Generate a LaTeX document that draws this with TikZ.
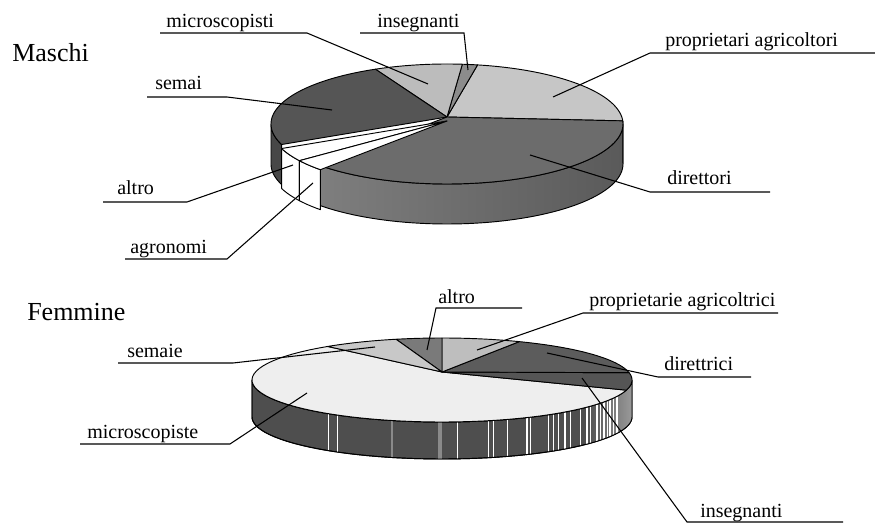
\documentclass[tikz,border=0pt]{standalone}
\usepackage{fontspec}
\setmainfont{Liberation Serif}
\definecolor{mProp}{HTML}{C6C6C6}
\definecolor{mIns}{HTML}{8C8C8C}
\definecolor{mMicro}{HTML}{BCBCBC}
\definecolor{mSemai}{HTML}{555555}
\definecolor{mDir}{HTML}{6C6C6C}
\definecolor{mSemaiS}{HTML}{474747}
\definecolor{mDirSa}{HTML}{7E7E7E}
\definecolor{mDirSb}{HTML}{5A5A5A}
\definecolor{mPropS}{HTML}{A8A8A8}
\definecolor{fMicro}{HTML}{EEEEEE}
\definecolor{fSemaie}{HTML}{C8C8C8}
\definecolor{fAltro}{HTML}{7A7A7A}
\definecolor{fProp}{HTML}{BEBEBE}
\definecolor{fDir}{HTML}{5C5C5C}
\definecolor{fIns}{HTML}{555555}
\definecolor{fSide}{HTML}{4E4E4E}
\definecolor{fSideR}{HTML}{A0A0A0}
\definecolor{fBand}{HTML}{8A8A8A}
\tikzset{
  face/.style={draw=black, line width=0.7pt, line join=round},
  leader/.style={draw=black, line width=0.8pt},
  lbl/.style={inner sep=0pt, anchor=base west, font=\fontsize{15}{18}\selectfont},
  ttl/.style={inner sep=0pt, anchor=base west, font=\fontsize{19.5}{23}\selectfont},
}
% start an elliptic arc (first element of a path)
\newcommand{\pieArc}[6]{plot[domain=#5:#6,samples=60] ({#1+#3*cos(\x)},{#2-#4*sin(\x)})}
% line to an elliptic arc
\newcommand{\pieTo}[6]{-- plot[domain=#5:#6,samples=60] ({#1+#3*cos(\x)},{#2-#4*sin(\x)})}
% line to an elliptic arc, run backwards
\newcommand{\pieToRev}[6]{-- plot[domain=#5:#6,samples=60] ({#1+#3*cos(#5+#6-\x)},{#2-#4*sin(#5+#6-\x)})}
\begin{document}
\begin{tikzpicture}[x=0.75pt,y=-0.75pt]
\useasboundingbox (0,0) rectangle (875,524);
\fill[white] (0,0) rectangle (875,524);

% ================= TOP PIE (Maschi) =================
\coordinate (A1) at (447,117);
% sides
\filldraw[face, fill=mSemaiS] \pieArc{447}{124}{176}{60}{180}{200} \pieToRev{447}{164}{176}{60}{180}{200} -- cycle;
\shadedraw[face, left color=mDirSa, right color=mDirSb] \pieArc{447}{124}{176}{60}{224}{360} \pieToRev{447}{164}{176}{60}{224}{360} -- cycle;
\filldraw[face, fill=mPropS] \pieArc{447}{124}{176}{60}{360}{363} \pieToRev{447}{164}{176}{60}{360}{363} -- cycle;
% top faces
\filldraw[face, fill=mProp] (A1) \pieTo{447}{124}{176}{60}{3}{80} -- cycle;
\filldraw[face, fill=mIns] (A1) \pieTo{447}{124}{176}{60}{80}{85} -- cycle;
\filldraw[face, fill=mMicro] (A1) \pieTo{447}{124}{176}{60}{85}{114} -- cycle;
\filldraw[face, fill=mSemai] (A1) \pieTo{447}{124}{176}{60}{114}{200} -- cycle;
\filldraw[face, fill=mDir] (A1) \pieTo{447}{124}{176}{60}{224}{363} -- cycle;
% exploded white slices
\begin{scope}[shift={(0,4)}]
  \filldraw[face, fill=white] \pieArc{447}{124}{176}{60}{200}{213} \pieToRev{447}{164}{176}{60}{200}{213} -- cycle;
  \filldraw[face, fill=white] \pieArc{447}{124}{176}{60}{213}{224} \pieToRev{447}{164}{176}{60}{213}{224} -- cycle;
  \filldraw[face, fill=white] (447,117) \pieTo{447}{124}{176}{60}{200}{213} -- cycle;
  \filldraw[face, fill=white] (447,117) \pieTo{447}{124}{176}{60}{213}{224} -- cycle;
\end{scope}

% ================= BOTTOM PIE (Femmine) =================
\coordinate (A2) at (442,372);
\filldraw[face, fill=fSide] \pieArc{442}{380}{190}{42}{180}{360} \pieToRev{442}{417}{190}{42}{180}{360} -- cycle;
\begin{scope}
  \clip \pieArc{442}{380}{190}{42}{180}{360} \pieToRev{442}{417}{190}{42}{180}{360} -- cycle;
  \shade[left color=fSide, right color=fSideR] (585,360) rectangle (636,470);
  \foreach \sx/\sw/\sc in {328/0.5/white, 337/0.4/white, 392/2.2/fBand, 440/2.4/fBand, 457/0.6/white,
      488/0.6/white, 493/0.5/white, 507/0.6/white, 527/0.9/white, 530/0.5/white, 548/0.7/white,
      553/0.5/white, 558/0.7/white, 565/0.9/white, 570/0.5/white, 580/0.7/white, 587/0.9/white,
      590/0.5/white, 597/0.9/white, 600/0.6/white, 604/0.9/white, 607/0.6/white, 610/0.9/white,
      613/0.6/white, 617/0.8/white}
    \draw[line width=\sw pt, color=\sc] (\sx,360) -- (\sx,470);
\end{scope}
\draw[face] \pieArc{442}{380}{190}{42}{180}{360} \pieToRev{442}{417}{190}{42}{180}{360} -- cycle;
% top faces
\filldraw[face, fill=fMicro] (A2) \pieTo{442}{380}{190}{42}{127}{346} -- cycle;
\filldraw[face, fill=fIns] (A2) \pieTo{442}{380}{190}{42}{346}{370} -- cycle;
\filldraw[face, fill=fDir] (A2) \pieTo{442}{380}{190}{42}{10}{66} -- cycle;
\filldraw[face, fill=fProp] (A2) \pieTo{442}{380}{190}{42}{66}{90} -- cycle;
\filldraw[face, fill=fAltro] (A2) \pieTo{442}{380}{190}{42}{90}{104} -- cycle;
\filldraw[face, fill=fSemaie] (A2) \pieTo{442}{380}{190}{42}{104}{127} -- cycle;

% ================= TITLES =================
\node[ttl] (tMaschi) at (12,62) {Maschi};
\node[ttl] (tFemmine) at (27,320) {Femmine};

% ================= LABELS TOP =================
\node[lbl] (lMicro) at (166,28) {microscopisti};
\coordinate (uMicroL) at (160,33); \coordinate (uMicroR) at (307,33); \coordinate (pMicro) at (428,84);
\draw[leader] (uMicroL) -- (uMicroR) -- (pMicro);

\node[lbl] (lIns) at (377,28) {insegnanti};
\coordinate (uInsL) at (360,33); \coordinate (uInsR) at (464,33); \coordinate (pIns) at (468,70);
\draw[leader] (uInsL) -- (uInsR) -- (pIns);

\node[lbl] (lSemai) at (155,90) {semai};
\coordinate (uSemaiL) at (147,97); \coordinate (uSemaiR) at (227,97); \coordinate (pSemai) at (332,110);
\draw[leader] (uSemaiL) -- (uSemaiR) -- (pSemai);

\node[lbl] (lProp) at (665,47) {proprietari agricoltori};
\coordinate (uPropL) at (650,53); \coordinate (uPropR) at (875,53); \coordinate (pProp) at (553,97);
\draw[leader] (uPropR) -- (uPropL) -- (pProp);

\node[lbl] (lDir) at (667,185) {direttori};
\coordinate (uDirL) at (650,192); \coordinate (uDirR) at (770,192); \coordinate (pDir) at (530,155);
\draw[leader] (uDirR) -- (uDirL) -- (pDir);

\node[lbl] (lAltro) at (117,195) {altro};
\coordinate (uAltroL) at (103,202); \coordinate (uAltroR) at (187,202); \coordinate (pAltro) at (293,165);
\draw[leader] (uAltroL) -- (uAltroR) -- (pAltro);

\node[lbl] (lAgr) at (130,253) {agronomi};
\coordinate (uAgrL) at (125,259); \coordinate (uAgrR) at (227,259); \coordinate (pAgr) at (313,183);
\draw[leader] (uAgrL) -- (uAgrR) -- (pAgr);

% ================= LABELS BOTTOM =================
\node[lbl] (lSemaie) at (127,357) {semaie};
\coordinate (uSemaieL) at (118,363); \coordinate (uSemaieR) at (233,363); \coordinate (pSemaie) at (375,347);
\draw[leader] (uSemaieL) -- (uSemaieR) -- (pSemaie);

\node[lbl] (lMicroF) at (87,438) {microscopiste};
\coordinate (uMicroFL) at (80,444); \coordinate (uMicroFR) at (230,444); \coordinate (pMicroF) at (307,393);
\draw[leader] (uMicroFL) -- (uMicroFR) -- (pMicroF);

\node[lbl] (lAltroF) at (438,303) {altro};
\coordinate (uAltroFL) at (436,308); \coordinate (uAltroFR) at (522,308); \coordinate (pAltroF) at (427,350);
\draw[leader] (uAltroFR) -- (uAltroFL) -- (pAltroF);

\node[lbl] (lPropF) at (589,306) {proprietarie agricoltrici};
\coordinate (uPropFL) at (583,313); \coordinate (uPropFR) at (778,313); \coordinate (pPropF) at (477,350);
\draw[leader] (uPropFR) -- (uPropFL) -- (pPropF);

\node[lbl] (lDirF) at (664,370) {direttrici};
\coordinate (uDirFL) at (658,377); \coordinate (uDirFR) at (751,377); \coordinate (pDirF) at (547,353);
\draw[leader] (uDirFR) -- (uDirFL) -- (pDirF);

\node[lbl] (lInsF) at (700,517) {insegnanti};
\coordinate (uInsFL) at (687,522); \coordinate (uInsFR) at (843,522); \coordinate (pInsF) at (582,378);
\draw[leader] (uInsFR) -- (uInsFL) -- (pInsF);
\end{tikzpicture}
\end{document}
